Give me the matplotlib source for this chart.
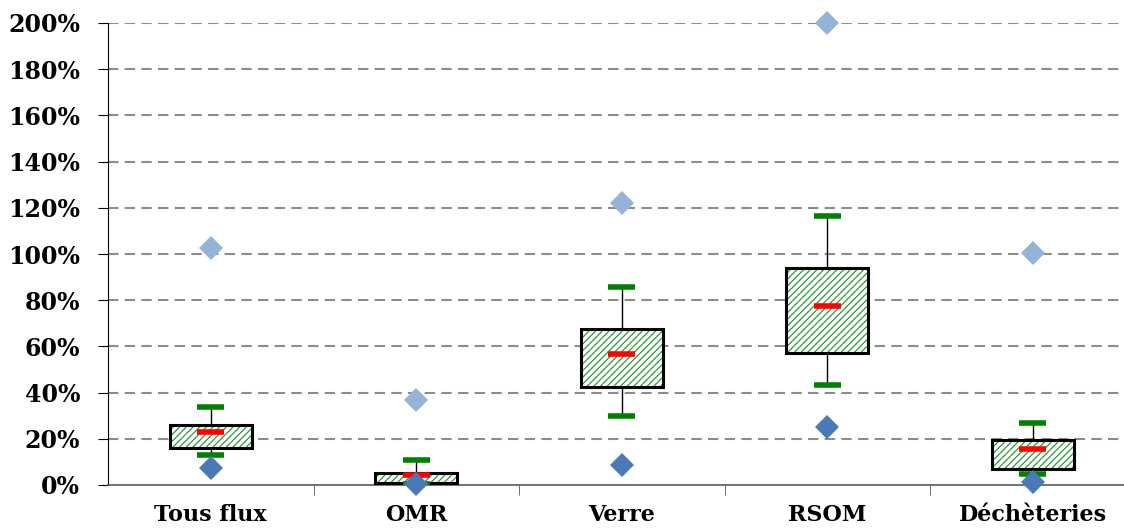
import numpy as np
import matplotlib.pyplot as plt
from matplotlib.ticker import FuncFormatter

plt.rcParams['font.family'] = ['DejaVu Serif']
plt.rcParams['hatch.linewidth'] = 0.9

# données (en %)
categories = ['Tous flux', 'OMR', 'Verre', 'RSOM', 'Déchèteries']
val_max = [102.5, 37, 122, 200, 100.4]
whisk_hi = [33.8, 11, 85.8, 116.6, 26.7]
q3 = [26, 5, 67.5, 94, 19.5]
median = [23, 4.5, 56.7, 77.5, 15.6]
q1 = [16, 1, 42.4, 57.3, 6.9]
whisk_lo = [13, 0.5, 29.9, 43.3, 4.9]
val_min = [7.4, 0.3, 8.7, 25.2, 1.3]

x = np.arange(len(categories))
q1 = np.array(q1)
q3 = np.array(q3)

fig = plt.figure(figsize=(11.24, 5.31), dpi=100)
ax = fig.add_axes([108/1124, 1 - 485/531, 1027.5/1124, 462/531])

# grille
for v in range(20, 201, 20):
    ax.axhline(v, color='#8c8c8c', lw=1.5, ls=(0, (5, 3)), zorder=0)

# moustaches
ax.vlines(x, whisk_lo, q1, color='black', lw=1, zorder=2)
ax.vlines(x, q3, whisk_hi, color='black', lw=1, zorder=2)

# boîtes hachurées
ax.bar(x, q3 - q1, bottom=q1, width=0.4, color='white', edgecolor='#2e9a3c',
       hatch='/////', lw=0, zorder=3)
ax.bar(x, q3 - q1, bottom=q1, width=0.4, fill=False, edgecolor='black',
       lw=2.2, zorder=4)

# extrémités et médiane
hw = 0.065
ax.hlines(whisk_hi, x - hw, x + hw, color='#008000', lw=4, zorder=5)
ax.hlines(whisk_lo, x - hw, x + hw, color='#008000', lw=4, zorder=5)
ax.hlines(median, x - hw, x + hw, color='#ff0000', lw=4, zorder=6)

# min / max
ax.plot(x, val_max, 'D', color='#95B3D7', ms=12.5, mew=0, zorder=7, clip_on=False)
ax.plot(x, val_min, 'D', color='#4A7AB5', ms=12.5, mew=0, zorder=7, clip_on=False)

ax.set_xlim(-0.5, 4.5)
ax.set_ylim(0, 200)
ax.set_yticks(range(0, 201, 20))
ax.yaxis.set_major_formatter(FuncFormatter(lambda v, p: f'{v:.0f}%'))
ax.set_xticks(x)
ax.set_xticklabels(categories)
ax.set_xticks(np.arange(0.5, 4.5, 1), minor=True)
ax.tick_params(axis='x', which='major', length=0, pad=14)
ax.tick_params(axis='x', which='minor', length=7, color='#595959', direction='out')
ax.tick_params(axis='y', length=7, direction='out', pad=13)
for lab in ax.get_yticklabels():
    lab.set_fontsize(17)
    lab.set_fontweight('bold')
for lab in ax.get_xticklabels():
    lab.set_fontsize(16)
    lab.set_fontweight('bold')

for s in ['top', 'right']:
    ax.spines[s].set_visible(False)
ax.spines['left'].set_color('black')
ax.spines['bottom'].set_color('#595959')
ax.spines['bottom'].set_linewidth(1.2)

fig.savefig('out.png', dpi=100)
